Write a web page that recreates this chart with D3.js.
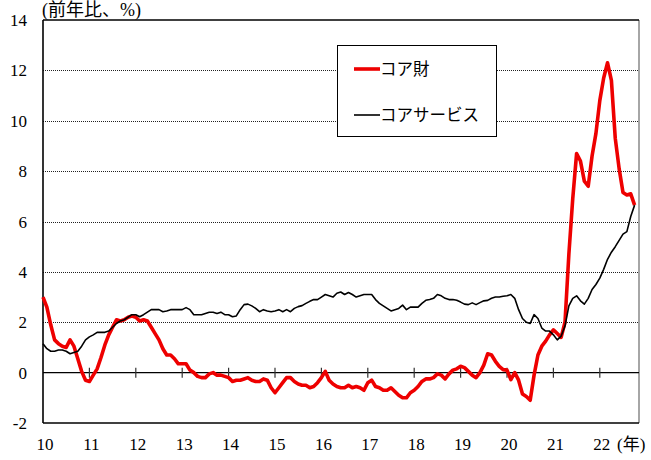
<!DOCTYPE html>
<meta charset="utf-8">
<style>
  body { margin: 0; background: #fff; }
  text { font-family: "Liberation Serif", "Noto Sans CJK JP", serif; fill: #000; }
</style>
<svg id="chart" width="651" height="460"></svg>
<script src="https://cdn.jsdelivr.net/npm/d3@7/dist/d3.min.js"></script>
<script>

// monthly, Jan 2010 - Oct 2022, year-on-year %
var coreGoods = [
  3.0, 2.6, 1.9, 1.3, 1.15, 1.05, 1.0, 1.3, 1.05, 0.55, 0.05, -0.3,
  -0.35, -0.1, 0.15, 0.6, 1.1, 1.5, 1.8, 2.1, 2.05, 2.1, 2.2, 2.25,
  2.2, 2.05, 2.1, 2.05, 1.8, 1.55, 1.3, 0.95, 0.7, 0.7, 0.55, 0.35,
  0.35, 0.35, 0.1, 0.0, -0.15, -0.2, -0.2, -0.05, 0.0, -0.1, -0.1, -0.15,
  -0.2, -0.35, -0.3, -0.3, -0.25, -0.2, -0.3, -0.35, -0.35, -0.25, -0.3, -0.6,
  -0.8, -0.6, -0.4, -0.2, -0.2, -0.35, -0.45, -0.5, -0.5, -0.6, -0.55, -0.4,
  -0.2, 0.05, -0.3, -0.45, -0.55, -0.6, -0.6, -0.5, -0.6, -0.55, -0.6, -0.7,
  -0.4, -0.3, -0.55, -0.6, -0.7, -0.7, -0.6, -0.75, -0.9, -1.0, -1.0, -0.8,
  -0.7, -0.55, -0.35, -0.25, -0.25, -0.2, -0.05, -0.1, -0.25, -0.05, 0.1, 0.15,
  0.25, 0.2, 0.05, -0.1, -0.2, 0.0, 0.3, 0.75, 0.7, 0.45, 0.25, 0.12,
  0.1, -0.28, 0.0, -0.3, -0.85, -0.95, -1.1, -0.1, 0.7, 1.05, 1.25, 1.5,
  1.7, 1.55, 1.4, 2.0, 4.7, 6.9, 8.7, 8.4, 7.6, 7.4, 8.6, 9.5,
  10.8, 11.7, 12.3, 11.6, 9.3, 8.1, 7.15, 7.05, 7.1, 6.65
];

var coreServices = [
  1.15, 0.95, 0.85, 0.85, 0.9, 0.9, 0.85, 0.75, 0.8, 0.85, 1.05, 1.3,
  1.42, 1.5, 1.6, 1.6, 1.6, 1.65, 1.8, 1.95, 2.05, 2.1, 2.2, 2.3,
  2.3, 2.22, 2.3, 2.4, 2.5, 2.5, 2.5, 2.42, 2.45, 2.5, 2.5, 2.5,
  2.5, 2.58, 2.5, 2.3, 2.3, 2.3, 2.35, 2.4, 2.4, 2.35, 2.4, 2.3,
  2.3, 2.22, 2.25, 2.5, 2.7, 2.72, 2.65, 2.55, 2.42, 2.5, 2.45, 2.42,
  2.45, 2.5, 2.42, 2.5, 2.42, 2.55, 2.62, 2.66, 2.75, 2.83, 2.9, 2.9,
  3.0, 3.1, 3.05, 3.0, 3.15, 3.2, 3.1, 3.18, 3.1, 3.0, 3.05, 3.1,
  3.1, 3.1, 2.9, 2.75, 2.65, 2.55, 2.45, 2.5, 2.55, 2.68, 2.5, 2.6,
  2.6, 2.6, 2.75, 2.87, 2.9, 2.95, 3.1, 3.05, 2.95, 2.9, 2.9, 2.87,
  2.8, 2.72, 2.7, 2.77, 2.7, 2.78, 2.85, 2.87, 2.95, 3.0, 3.0, 3.03,
  3.05, 3.1, 2.95, 2.5, 2.15, 2.0, 1.95, 2.3, 2.15, 1.77, 1.65, 1.65,
  1.5, 1.3, 1.45, 1.85, 2.65, 2.95, 3.05, 2.85, 2.72, 2.95, 3.3, 3.5,
  3.75, 4.1, 4.5, 4.78, 5.0, 5.25, 5.5, 5.6, 6.2, 6.65
];

var years = [2010, 2011, 2012, 2013, 2014, 2015, 2016, 2017, 2018, 2019, 2020, 2021, 2022];
var yearLabels = ["10", "11", "12", "13", "14", "15", "16", "17", "18", "19", "20", "21", "22"];
var yTicks = [-2, 0, 2, 4, 6, 8, 10, 12, 14];
var seriesNames = ["コア財", "コアサービス"];

var svg = d3.select("#chart");

var plotLeft = 43, plotRight = 639, plotTop = 20, plotBottom = 423;

var x = d3.scaleLinear()
  .domain([2010, 2010 + (plotRight - plotLeft) / 46.4])
  .range([plotLeft, plotRight]);

var y = d3.scaleLinear()
  .domain([-2, 14])
  .range([plotBottom, plotTop]);

function monthX(d, i) { return x(2010 + i / 12); }

// gridlines (dotted)
svg.append("g")
  .selectAll("line")
  .data(yTicks.filter(function(v) { return v > 0 && v < 14; }))
  .join("line")
  .attr("x1", plotLeft).attr("x2", plotRight)
  .attr("y1", function(d) { return Math.round(y(d)) + 0.5; })
  .attr("y2", function(d) { return Math.round(y(d)) + 0.5; })
  .attr("stroke", "#222")
  .attr("stroke-width", 1)
  .attr("stroke-dasharray", "1,1");

// frame
svg.append("line")
  .attr("x1", plotRight).attr("x2", plotRight).attr("y1", plotTop).attr("y2", plotBottom)
  .attr("stroke", "#888").attr("stroke-width", 1.5);
svg.append("line")
  .attr("x1", plotLeft).attr("x2", plotRight).attr("y1", y(14)).attr("y2", y(14))
  .attr("stroke", "#000").attr("stroke-width", 1.3);
svg.append("line")
  .attr("x1", plotLeft).attr("x2", plotRight).attr("y1", y(-2)).attr("y2", y(-2))
  .attr("stroke", "#000").attr("stroke-width", 1.6);

// zero line with year ticks
svg.append("line")
  .attr("x1", plotLeft).attr("x2", plotRight).attr("y1", y(0)).attr("y2", y(0))
  .attr("stroke", "#000").attr("stroke-width", 1.2);
svg.append("g")
  .selectAll("line")
  .data(years.slice(1))
  .join("line")
  .attr("x1", function(d) { return x(d); })
  .attr("x2", function(d) { return x(d); })
  .attr("y1", y(0) - 5).attr("y2", y(0) + 5)
  .attr("stroke", "#333").attr("stroke-width", 1.2);

// left axis
svg.append("line")
  .attr("x1", plotLeft).attr("x2", plotLeft).attr("y1", plotTop).attr("y2", plotBottom)
  .attr("stroke", "#000").attr("stroke-width", 1.6);

// y labels
svg.append("g")
  .selectAll("text")
  .data(yTicks)
  .join("text")
  .attr("x", 27)
  .attr("y", function(d) { return y(d) + 6; })
  .attr("text-anchor", "end")
  .attr("font-size", 17)
  .text(function(d) { return d; });

// x labels
svg.append("g")
  .selectAll("text")
  .data(years)
  .join("text")
  .attr("x", function(d) { return x(d) + 2; })
  .attr("y", 450)
  .attr("text-anchor", "middle")
  .attr("font-size", 17)
  .text(function(d, i) { return yearLabels[i]; });

svg.append("text")
  .attr("x", 617).attr("y", 450)
  .attr("font-size", 17)
  .text("(年)");

svg.append("text")
  .attr("x", 42).attr("y", 16)
  .attr("font-size", 18)
  .text("(前年比、%)");

// series
var line = d3.line()
  .x(monthX)
  .y(function(d) { return y(d); });

svg.append("path")
  .datum(coreGoods)
  .attr("d", line)
  .attr("fill", "none")
  .attr("stroke", "#ee0000")
  .attr("stroke-width", 3.6)
  .attr("stroke-linejoin", "round");

svg.append("path")
  .datum(coreServices)
  .attr("d", line)
  .attr("fill", "none")
  .attr("stroke", "#000")
  .attr("stroke-width", 1.6)
  .attr("stroke-linejoin", "round");

// legend
var legend = svg.append("g");
legend.append("rect")
  .attr("x", 337.5).attr("y", 45.5).attr("width", 159).attr("height", 91)
  .attr("fill", "#fff").attr("stroke", "#000").attr("stroke-width", 1);

var legendColors = ["#ee0000", "#000"];
var legendWidths = [3.6, 1.6];
seriesNames.forEach(function(name, i) {
  var ly = 69 + i * 46;
  legend.append("line")
    .attr("x1", 354).attr("x2", 380).attr("y1", ly).attr("y2", ly)
    .attr("stroke", legendColors[i]).attr("stroke-width", legendWidths[i]);
  legend.append("text")
    .attr("x", 380).attr("y", ly + 6)
    .attr("font-size", 16.5)
    .text(name);
});

</script>
</html>
